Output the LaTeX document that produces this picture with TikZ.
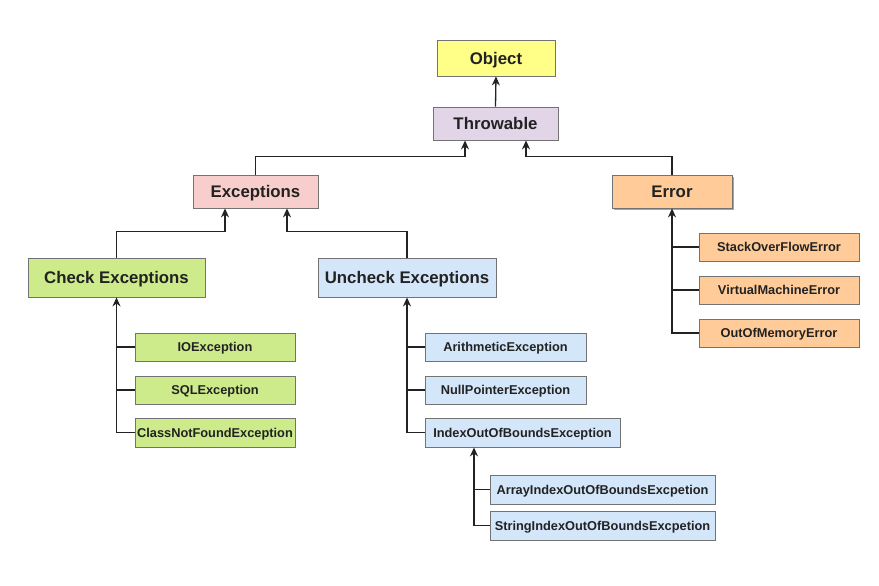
\documentclass[tikz,border=0pt]{standalone}
\usepackage{fontspec}
\setmainfont{Liberation Sans}
\usetikzlibrary{arrows.meta}
\definecolor{cyel}{HTML}{FFFF88}
\definecolor{clav}{HTML}{E1D5E7}
\definecolor{cpink}{HTML}{F8CECC}
\definecolor{corg}{HTML}{FFCC99}
\definecolor{cgrn}{HTML}{CDEB8B}
\definecolor{cblu}{HTML}{D4E6FA}
\definecolor{ctxt}{HTML}{222222}
\begin{document}
\begin{tikzpicture}[x=1pt,y=-1pt,
  box/.style={draw=black!55, line width=0.8pt, inner sep=0pt, text=ctxt,
    text height=9.2pt, text depth=0pt,
    font=\bfseries\fontsize{12.8}{14}\selectfont},
  bigbox/.style={box, text height=12.1pt, font=\bfseries\fontsize{16.8}{19}\selectfont},
  conn/.style={line width=1.3pt, draw=ctxt},
  arr/.style={conn, -{Stealth[length=9pt,width=8pt]}}]
\useasboundingbox (0,0) rectangle (879,586);
\fill[white] (0,0) rectangle (879,586);
% top level
\node[bigbox, fill=cyel, minimum width=118pt, minimum height=36pt] (obj) at (496,58) {Object};
\node[bigbox, fill=clav, minimum width=125pt, minimum height=33pt] (thr) at (495.5,123.5) {Throwable};
\node[bigbox, fill=cpink, minimum width=125pt, minimum height=33pt] (exc) at (255.5,191.5) {Exceptions};
\fill[black!35] (614,177) rectangle (734,210);
\node[bigbox, fill=corg, minimum width=120pt, minimum height=33pt] (err) at (672,191.5) {Error};
\node[bigbox, fill=cgrn, minimum width=177pt, minimum height=39pt] (chk) at (116.5,277.5) {Check Exceptions};
\node[bigbox, fill=cblu, minimum width=178pt, minimum height=39pt] (unc) at (407,277.5) {Uncheck Exceptions};
% checked
\node[box, fill=cgrn, minimum width=160pt, minimum height=28pt] (io) at (215,347) {IOException};
\node[box, fill=cgrn, minimum width=160pt, minimum height=28pt] (sql) at (215,390) {SQLException};
\node[box, fill=cgrn, minimum width=160pt, minimum height=29pt] (cnf) at (215,432.5) {ClassNotFoundException};
% unchecked
\node[box, fill=cblu, minimum width=161pt, minimum height=28pt] (ari) at (505.5,347) {ArithmeticException};
\node[box, fill=cblu, minimum width=161pt, minimum height=28pt] (nul) at (505.5,390) {NullPointerException};
\node[box, fill=cblu, minimum width=195pt, minimum height=29pt] (idx) at (522.5,432.5) {IndexOutOfBoundsException};
\node[box, fill=cblu, minimum width=225pt, minimum height=29pt] (aio) at (602.5,489.5) {ArrayIndexOutOfBoundsExcpetion};
\node[box, fill=cblu, minimum width=225pt, minimum height=29pt] (sio) at (602.5,525.5) {StringIndexOutOfBoundsExcpetion};
% errors
\node[box, fill=corg, minimum width=160pt, minimum height=28pt] (sof) at (779,247) {StackOverFlowError};
\node[box, fill=corg, minimum width=160pt, minimum height=28pt] (vme) at (779,290) {VirtualMachineError};
\node[box, fill=corg, minimum width=160pt, minimum height=28pt] (oom) at (779,333) {OutOfMemoryError};
% connectors
\draw[arr] (thr.north) -- (obj.south);
\draw[arr] (exc.north) -- ++(0,-18) -| ([xshift=-30.5pt]thr.south);
\draw[arr] (err.north) -- ++(0,-18) -| ([xshift=30.5pt]thr.south);
\draw[arr] (chk.north) -- ++(0,-26) -| ([xshift=-30.5pt]exc.south);
\draw[arr] (unc.north) -- ++(0,-26) -| ([xshift=31.5pt]exc.south);
\draw[arr] (cnf.west) -| (chk.south);
\draw[conn] (io.west) -- (io.west -| chk.south);
\draw[conn] (sql.west) -- (sql.west -| chk.south);
\draw[arr] (idx.west) -| (unc.south);
\draw[conn] (ari.west) -- (ari.west -| unc.south);
\draw[conn] (nul.west) -- (nul.west -| unc.south);
\coordinate (idxb) at ([xshift=-48.5pt]idx.south);
\draw[arr] (sio.west) -| (idxb);
\draw[conn] (aio.west) -- (aio.west -| idxb);
\draw[arr] (oom.west) -| (err.south);
\draw[conn] (sof.west) -- (sof.west -| err.south);
\draw[conn] (vme.west) -- (vme.west -| err.south);
\end{tikzpicture}
\end{document}
